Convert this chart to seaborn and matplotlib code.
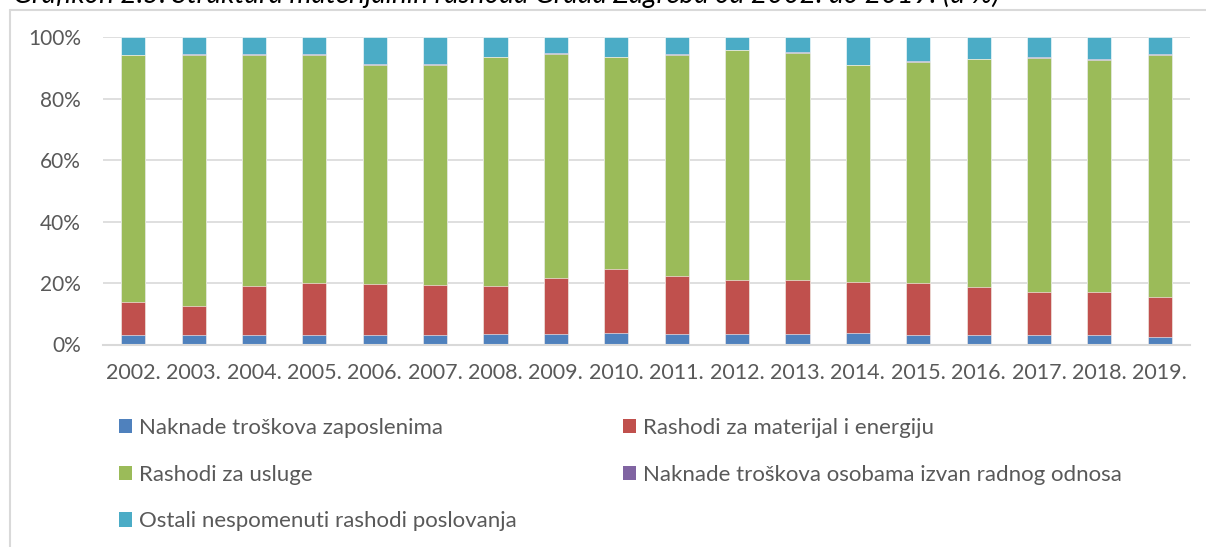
import matplotlib
matplotlib.use("Agg")
import matplotlib.pyplot as plt
from matplotlib.lines import Line2D
from matplotlib.patches import Patch
import numpy as np
import pandas as pd
import seaborn as sns

# Podaci (udjeli u %)
godine = ["2002.", "2003.", "2004.", "2005.", "2006.", "2007.", "2008.", "2009.", "2010.",
          "2011.", "2012.", "2013.", "2014.", "2015.", "2016.", "2017.", "2018.", "2019."]
zaposleni = [3.2, 3.1, 3.0, 3.2, 3.2, 3.1, 3.5, 3.4, 3.7, 3.5, 3.5, 3.5, 3.7, 3.2, 3.2, 3.1, 3.1, 2.6]
materijal = [10.5, 9.3, 16.2, 16.8, 16.5, 16.2, 15.7, 18.1, 21.0, 18.9, 17.6, 17.6, 16.6, 16.9, 15.6, 14.1, 14.1, 13.0]
usluge = [80.4, 82.0, 75.2, 74.4, 71.4, 71.8, 74.3, 73.2, 68.9, 72.0, 74.8, 73.9, 70.6, 72.0, 74.1, 76.2, 75.5, 78.8]
izvan_odnosa = [0.1, 0.1, 0.1, 0.1, 0.1, 0.1, 0.1, 0.1, 0.1, 0.1, 0.1, 0.1, 0.1, 0.1, 0.1, 0.1, 0.1, 0.1]
ostali = [5.8, 5.5, 5.5, 5.5, 8.8, 8.8, 6.4, 5.2, 6.3, 5.5, 4.0, 4.9, 9.0, 7.8, 7.0, 6.5, 7.2, 5.5]

nazivi = ["Naknade troškova zaposlenima", "Rashodi za materijal i energiju", "Rashodi za usluge",
          "Naknade troškova osobama izvan radnog odnosa", "Ostali nespomenuti rashodi poslovanja"]
boje = ["#4F81BD", "#C0504D", "#9BBB59", "#8064A2", "#4BACC6"]

df = pd.DataFrame({"godina": godine, nazivi[0]: zaposleni, nazivi[1]: materijal,
                   nazivi[2]: usluge, nazivi[3]: izvan_odnosa, nazivi[4]: ostali})
vrijednosti = df[nazivi]
postotci = vrijednosti.div(vrijednosti.sum(axis=1), axis=0) * 100
kumulativ = postotci.cumsum(axis=1)

sns.set_style("white")
plt.rcParams["font.family"] = ["Lato", "DejaVu Sans"]

fig = plt.figure(figsize=(12.06, 5.47), dpi=100)
ax = fig.add_axes([103 / 1206, 1 - 344.5 / 547, (1190 - 103) / 1206, (344.5 - 37.3) / 547])

# Stupci crtani od vrha prema dnu (kumulativno)
for i in range(len(nazivi) - 1, -1, -1):
    sns.barplot(x=df["godina"], y=kumulativ[nazivi[i]], color=boje[i], width=0.4,
                saturation=1, ax=ax, zorder=2, edgecolor="white", linewidth=0.4)

ax.set_ylim(0, 100)
ax.set_xlim(-0.5, len(godine) - 0.5)
ax.set_yticks(range(0, 101, 20))
ax.set_yticklabels([f"{v}%" for v in range(0, 101, 20)])
ax.yaxis.grid(True, color="#D9D9D9", linewidth=1.2, zorder=0)
ax.set_axisbelow(True)
ax.set_xlabel("")
ax.set_ylabel("")
for s in ["top", "right", "left"]:
    ax.spines[s].set_visible(False)
ax.spines["bottom"].set_color("#D9D9D9")
ax.spines["bottom"].set_linewidth(1.5)
ax.tick_params(axis="both", length=0, colors="#595959")
ax.tick_params(axis="y", pad=16, labelsize=15)
ax.tick_params(axis="x", pad=13, labelsize=15.5)

# Legenda (redoslijed po redovima)
rucke = [Patch(facecolor=b, edgecolor="none") for b in boje]
red = [0, 2, 4, 1, 3]
fig.legend([rucke[i] for i in red], [nazivi[i] for i in red], ncol=2,
           loc="upper left", bbox_to_anchor=(119 / 1206, 1 - 418 / 547),
           frameon=False, fontsize=16, labelcolor="#595959",
           handlelength=0.6, handleheight=0.6, handletextpad=0.3,
           labelspacing=1.2, columnspacing=4.78, borderaxespad=0, borderpad=0)

# Okvir grafikona
fig.add_artist(Line2D([10 / 1206, 1], [1 - 9.5 / 547, 1 - 9.5 / 547], color="#D9D9D9", linewidth=1.5))
fig.add_artist(Line2D([10 / 1206, 10 / 1206], [0, 1 - 9.5 / 547], color="#D9D9D9", linewidth=1.5))

fig.text(13 / 1206, 1 - 3 / 547,
         "Grafikon 2.5. Struktura materijalnih rashoda Grada Zagreba od 2002. do 2019. (u %)",
         fontsize=20.2, style="italic", color="black", va="baseline", ha="left")

fig.savefig("out.png", dpi=100)
